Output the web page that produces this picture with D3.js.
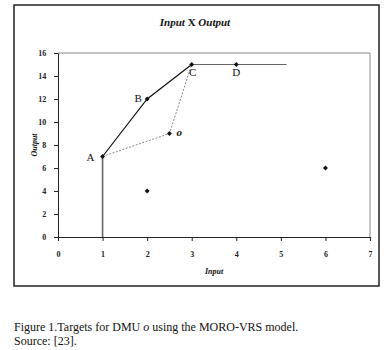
<!DOCTYPE html>
<html>
<head>
<meta charset="utf-8">
<script src="https://cdn.jsdelivr.net/npm/d3@7"></script>
<style>
  body { margin: 0; background: #fff; }
  svg { display: block; font-family: "Liberation Serif", "Times New Roman", serif; }
</style>
</head>
<body>
<div id="chart"></div>
<script>
// 数据
const dmuNames = ['A', 'B', 'C', 'D', 'o', '', ''];
const dmuInput = [1, 2, 3, 4, 2.5, 2, 6];
const dmuOutput = [7, 12, 15, 15, 9, 4, 6];
// 前沿线：竖线、A-B-C、水平线
const frontierX = [1, 2, 3];
const frontierY = [7, 12, 15];
const vertX = [1, 1];
const vertY = [0, 7];
const horizX = [3, 5.13];
const horizY = [15, 15];
// 虚线 A-o-C
const targetX = [1, 2.5, 3];
const targetY = [7, 9, 15];
const xTicks = [0, 1, 2, 3, 4, 5, 6, 7];
const yTicks = [0, 2, 4, 6, 8, 10, 12, 14, 16];

const W = 390, H = 350;
const svg = d3.select('#chart').append('svg').attr('width', W).attr('height', H);

// 外框
svg.append('rect')
  .attr('x', 14).attr('y', 5).attr('width', 365).attr('height', 281)
  .attr('fill', 'none').attr('stroke', '#222').attr('stroke-width', 1.5);

const x = d3.scaleLinear().domain([0, 7]).range([58, 370]);
const y = d3.scaleLinear().domain([0, 16]).range([237, 53]);

// 绘图区边框
svg.append('path')
  .attr('d', `M${x(0)},${y(16)}H${x(7)}V${y(0)}`)
  .attr('fill', 'none').attr('stroke', '#888').attr('stroke-width', 1);

// 坐标轴
const xAxis = svg.append('g').attr('transform', `translate(0,${y(0)})`)
  .call(d3.axisBottom(x).tickValues(xTicks).tickFormat(d3.format('d')).tickSize(4).tickSizeOuter(0));
const yAxis = svg.append('g').attr('transform', `translate(${x(0)},0)`)
  .call(d3.axisLeft(y).tickValues(yTicks).tickFormat(d3.format('d')).tickSize(4).tickSizeOuter(0));
[xAxis, yAxis].forEach(a => {
  a.select('.domain').attr('stroke', '#222');
  a.selectAll('.tick line').attr('stroke', '#222');
  a.selectAll('.tick text')
    .attr('font-family', '"Liberation Serif", serif')
    .attr('font-size', 8).attr('font-weight', 'bold').attr('fill', '#222');
});
xAxis.selectAll('.tick text').attr('dy', '1.6em');
yAxis.selectAll('.tick text').attr('dx', '-0.6em');

const line = d3.line().x(d => x(d[0])).y(d => y(d[1]));
const pairs = (xs, ys) => xs.map((v, i) => [v, ys[i]]);

// 竖线和水平线
svg.append('path').attr('d', line(pairs(vertX, vertY)))
  .attr('fill', 'none').attr('stroke', '#666').attr('stroke-width', 1.6);
svg.append('path').attr('d', line(pairs(horizX, horizY)))
  .attr('fill', 'none').attr('stroke', '#666').attr('stroke-width', 1.2);
// 前沿 A-B-C
svg.append('path').attr('d', line(pairs(frontierX, frontierY)))
  .attr('fill', 'none').attr('stroke', '#111').attr('stroke-width', 1.2);
// 虚线
svg.append('path').attr('d', line(pairs(targetX, targetY)))
  .attr('fill', 'none').attr('stroke', '#777').attr('stroke-width', 0.9)
  .attr('stroke-dasharray', '2,1.5');

// 点
const sym = d3.symbol().type(d3.symbolSquare).size(12);
dmuInput.forEach((v, i) => {
  svg.append('path').attr('d', sym)
    .attr('transform', `translate(${x(v)},${y(dmuOutput[i])}) rotate(45)`)
    .attr('fill', '#111');
});

// 点标签
const labelOffset = { A: [-12, 4], B: [-9, 3], C: [1, 11], D: [0, 11], o: [7, 2] };
dmuNames.forEach((n, i) => {
  if (!n) return;
  const off = labelOffset[n];
  svg.append('text')
    .attr('x', x(dmuInput[i]) + off[0]).attr('y', y(dmuOutput[i]) + off[1])
    .attr('text-anchor', n === 'o' ? 'start' : 'middle')
    .attr('font-size', 11)
    .attr('font-style', n === 'o' ? 'italic' : 'normal')
    .attr('font-weight', n === 'o' ? 'bold' : 'normal')
    .attr('fill', '#111')
    .text(n);
});

// 标题
const title = svg.append('text').attr('x', 195).attr('y', 26)
  .attr('text-anchor', 'middle').attr('font-size', 11).attr('font-weight', 'bold').attr('fill', '#111');
title.append('tspan').attr('font-style', 'italic').text('Input ');
title.append('tspan').text(' X ');
title.append('tspan').attr('font-style', 'italic').text('Output');

// 轴标题
svg.append('text').attr('x', 214).attr('y', 274).attr('text-anchor', 'middle')
  .attr('font-size', 8).attr('font-style', 'italic').attr('font-weight', 'bold').attr('fill', '#111')
  .text('Input');
svg.append('text').attr('transform', `translate(37,${y(8)}) rotate(-90)`)
  .attr('text-anchor', 'middle')
  .attr('font-size', 8).attr('font-style', 'italic').attr('font-weight', 'bold').attr('fill', '#111')
  .text('Output');

// 图注
const cap = svg.append('text').attr('x', 14).attr('y', 331).attr('font-size', 12).attr('fill', '#111');
cap.append('tspan').text('Figure 1.Targets for DMU ');
cap.append('tspan').attr('font-style', 'italic').text('o');
cap.append('tspan').text(' using the MORO-VRS model.');
svg.append('text').attr('x', 14).attr('y', 345).attr('font-size', 12).attr('fill', '#111')
  .text('Source: [23].');
</script>
</body>
</html>
